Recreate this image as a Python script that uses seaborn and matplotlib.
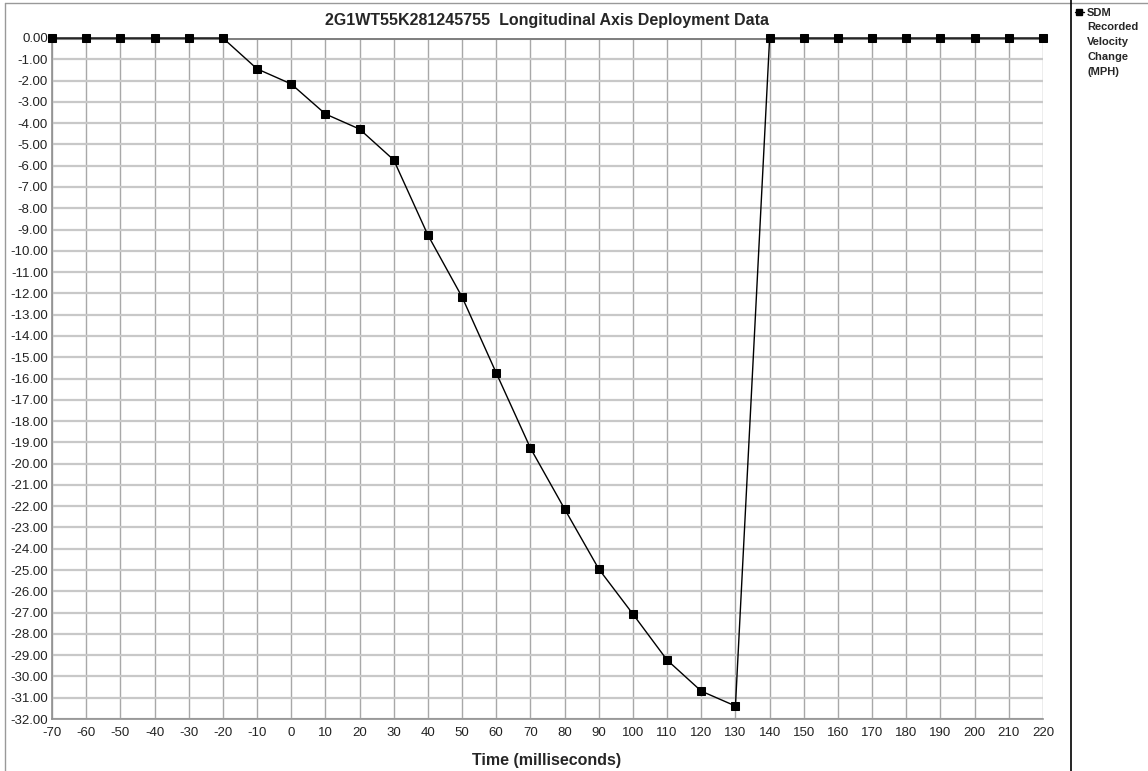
import matplotlib
matplotlib.use("Agg")
import matplotlib.pyplot as plt
import seaborn as sns
import pandas as pd
import numpy as np
from matplotlib.lines import Line2D

time_ms = [-70, -60, -50, -40, -30, -20, -10, 0, 10, 20, 30, 40, 50, 60, 70, 80, 90,
           100, 110, 120, 130, 140, 150, 160, 170, 180, 190, 200, 210, 220]
velocity = [0.0, 0.0, 0.0, 0.0, 0.0, 0.0, -1.45, -2.16, -3.57, -4.28, -5.73, -9.26,
            -12.17, -15.74, -19.27, -22.13, -24.95, -27.07, -29.23, -30.69, -31.39,
            0.0, 0.0, 0.0, 0.0, 0.0, 0.0, 0.0, 0.0, 0.0]
x_ticks = list(range(-70, 221, 10))
y_ticks = list(range(0, -33, -1))
title = "2G1WT55K281245755  Longitudinal Axis Deployment Data"
x_label = "Time (milliseconds)"
legend_label = "SDM\nRecorded\nVelocity\nChange\n(MPH)"

df = pd.DataFrame({"time": time_ms, "velocity": velocity})

sns.set_theme(style="white")
plt.rcParams['font.family'] = ['Liberation Sans', 'DejaVu Sans']

fig = plt.figure(figsize=(11.48, 7.71), dpi=100)
ax = fig.add_axes([52/1148, 1-719/771, (1043-52)/1148, (719-38)/771])

# grid
for x in x_ticks:
    ax.axvline(x, color="#a8a8a8", lw=1.0, zorder=0)
for y in y_ticks:
    ax.axhline(y, color="#c8c8c8", lw=1.6, zorder=0)
ax.axhline(0, color="#808080", lw=2.2, zorder=1)

sns.lineplot(data=df, x="time", y="velocity", ax=ax, color="black", lw=1.0,
             marker="s", markersize=6, markeredgecolor="black", zorder=3,
             legend=False, clip_on=False)

ax.set_xlim(-70, 220)
ax.set_ylim(-32, 0)
ax.set_xticks(x_ticks)
ax.set_xticklabels([str(v) for v in x_ticks], fontsize=9.5)
ax.set_yticks(y_ticks)
ax.set_yticklabels([f"{v:.2f}" if v != 0 else "0.00" for v in y_ticks], fontsize=9.5)
ax.tick_params(axis="both", length=0, pad=3, colors="#222222")
ax.tick_params(axis="x", pad=6)
for s in ["top", "right"]:
    ax.spines[s].set_visible(False)
for s in ["left", "bottom"]:
    ax.spines[s].set_color("#909090")
    ax.spines[s].set_linewidth(1.2)
ax.set_xlabel("")
ax.set_ylabel("")

fig.text(547/1148, 1-20/771, title, ha="center", va="center", fontsize=11.5,
         fontweight="bold")
fig.text(547/1148, 1-760/771, x_label, ha="center", va="center", fontsize=11.5,
         fontweight="bold")

# legend (manual, handle aligned with first line)
fig.add_artist(Line2D([1075/1148, 1079/1148, 1084/1148], [1-12/771] * 3, color="black",
                      lw=1.0, marker="s", markersize=5, markevery=[1],
                      transform=fig.transFigure))
fig.text(1087/1148, 1-7.5/771, legend_label, ha="left", va="top", fontsize=8,
         fontweight="bold", linespacing=1.62)

# frame lines
fig.add_artist(Line2D([5/1148, 5/1148], [0, 1-3/771], color="#999999", lw=1.0,
                      transform=fig.transFigure))
fig.add_artist(Line2D([5/1148, 1], [1-3/771, 1-3/771], color="#999999", lw=1.0,
                      transform=fig.transFigure))
fig.add_artist(Line2D([1071/1148, 1071/1148], [0, 1], color="black", lw=1.2,
                      transform=fig.transFigure))

fig.savefig("out.png", dpi=100)
